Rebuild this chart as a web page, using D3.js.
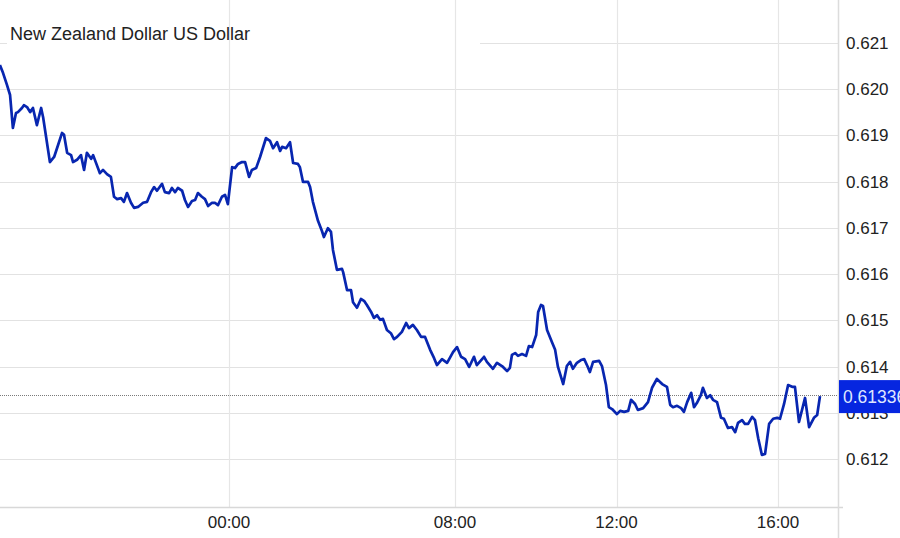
<!doctype html>
<html lang="en">
<head>
    <meta charset="utf-8"/>
    <title>New Zealand Dollar US Dollar</title>
    <script src="https://d3js.org/d3.v7.min.js"></script>
    <style>
        body { margin: 0; background: #fff; }
        svg { display: block; font-family: "Liberation Sans", Arial, sans-serif; }
    </style>
</head>
<body>

<svg id="chart"></svg>

<script>
    const width = 900,
        height = 538;

    // hours relative to 00:00, NZD/USD rate
    const nzdusd = [
        [-8.11, 0.62052], [-8.00, 0.62035], [-7.86, 0.62009], [-7.75, 0.61987], [-7.65, 0.61916], [-7.54, 0.61948],
        [-7.47, 0.61950], [-7.33, 0.61959], [-7.26, 0.61965], [-7.15, 0.61961], [-7.04, 0.61950], [-6.94, 0.61959],
        [-6.80, 0.61922], [-6.65, 0.61959], [-6.58, 0.61939], [-6.34, 0.61842], [-6.19, 0.61853], [-6.05, 0.61879],
        [-5.91, 0.61905], [-5.84, 0.61901], [-5.73, 0.61862], [-5.59, 0.61857], [-5.52, 0.61842], [-5.38, 0.61847],
        [-5.24, 0.61857], [-5.13, 0.61825], [-5.03, 0.61862], [-4.88, 0.61849], [-4.81, 0.61857], [-4.57, 0.61818],
        [-4.46, 0.61825], [-4.32, 0.61816], [-4.18, 0.61810], [-4.07, 0.61767], [-3.96, 0.61762], [-3.82, 0.61764],
        [-3.72, 0.61756], [-3.61, 0.61775], [-3.47, 0.61754], [-3.36, 0.61743], [-3.22, 0.61745], [-3.04, 0.61754],
        [-2.90, 0.61756], [-2.76, 0.61777], [-2.65, 0.61788], [-2.55, 0.61780], [-2.37, 0.61795], [-2.27, 0.61777],
        [-2.12, 0.61775], [-2.02, 0.61786], [-1.91, 0.61777], [-1.81, 0.61786], [-1.66, 0.61780], [-1.56, 0.61760],
        [-1.45, 0.61745], [-1.31, 0.61758], [-1.20, 0.61760], [-1.10, 0.61775], [-0.96, 0.61767], [-0.85, 0.61762],
        [-0.74, 0.61747], [-0.60, 0.61754], [-0.50, 0.61754], [-0.39, 0.61749], [-0.25, 0.61767], [-0.14, 0.61771],
        [-0.04, 0.61751], [0.11, 0.61831], [0.21, 0.61829], [0.32, 0.61838], [0.46, 0.61842], [0.57, 0.61842],
        [0.71, 0.61810], [0.81, 0.61825], [0.96, 0.61829], [1.10, 0.61853], [1.31, 0.61894], [1.45, 0.61888],
        [1.56, 0.61872], [1.70, 0.61885], [1.81, 0.61866], [1.88, 0.61875], [2.02, 0.61872], [2.16, 0.61885],
        [2.27, 0.61840], [2.44, 0.61838], [2.51, 0.61831], [2.62, 0.61799], [2.80, 0.61799], [2.87, 0.61788],
        [2.97, 0.61756], [3.15, 0.61715], [3.29, 0.61693], [3.36, 0.61680], [3.50, 0.61699], [3.61, 0.61691],
        [3.68, 0.61652], [3.82, 0.61609], [4.00, 0.61611], [4.04, 0.61604], [4.18, 0.61565], [4.32, 0.61565],
        [4.39, 0.61539], [4.53, 0.61527], [4.67, 0.61546], [4.78, 0.61542], [4.88, 0.61533], [5.03, 0.61518],
        [5.13, 0.61505], [5.24, 0.61511], [5.35, 0.61501], [5.45, 0.61503], [5.59, 0.61479], [5.73, 0.61472],
        [5.84, 0.61459], [5.95, 0.61464], [6.12, 0.61475], [6.27, 0.61494], [6.37, 0.61483], [6.51, 0.61490],
        [6.65, 0.61479], [6.80, 0.61464], [6.94, 0.61464], [7.12, 0.61436], [7.26, 0.61418], [7.36, 0.61403],
        [7.54, 0.61416], [7.72, 0.61408], [7.93, 0.61431], [8.05, 0.61442], [8.15, 0.61421], [8.25, 0.61416],
        [8.35, 0.61399], [8.47, 0.61421], [8.54, 0.61403], [8.72, 0.61421], [8.79, 0.61410], [8.94, 0.61395],
        [9.04, 0.61408], [9.19, 0.61399], [9.29, 0.61390], [9.36, 0.61397], [9.41, 0.61425], [9.49, 0.61429],
        [9.56, 0.61423], [9.66, 0.61427], [9.76, 0.61423], [9.83, 0.61444], [9.91, 0.61442], [10.01, 0.61468],
        [10.06, 0.61518], [10.13, 0.61533], [10.18, 0.61531], [10.28, 0.61479], [10.40, 0.61453], [10.48, 0.61436],
        [10.55, 0.61399], [10.68, 0.61362], [10.77, 0.61401], [10.85, 0.61410], [10.92, 0.61395], [11.02, 0.61408],
        [11.12, 0.61414], [11.20, 0.61416], [11.29, 0.61399], [11.34, 0.61388], [11.42, 0.61410], [11.57, 0.61412],
        [11.64, 0.61401], [11.74, 0.61360], [11.81, 0.61312], [11.89, 0.61308], [12.01, 0.61297], [12.09, 0.61304],
        [12.19, 0.61302], [12.29, 0.61304], [12.36, 0.61328], [12.46, 0.61319], [12.53, 0.61306], [12.66, 0.61310],
        [12.78, 0.61323], [12.88, 0.61354], [13.00, 0.61373], [13.13, 0.61362], [13.25, 0.61356], [13.33, 0.61317],
        [13.40, 0.61312], [13.50, 0.61315], [13.60, 0.61310], [13.67, 0.61302], [13.75, 0.61323], [13.85, 0.61343],
        [13.92, 0.61312], [13.99, 0.61321], [14.09, 0.61338], [14.14, 0.61354], [14.24, 0.61332], [14.32, 0.61338],
        [14.39, 0.61328], [14.49, 0.61323], [14.59, 0.61289], [14.66, 0.61287], [14.76, 0.61267], [14.86, 0.61269],
        [14.94, 0.61258], [15.01, 0.61278], [15.11, 0.61284], [15.18, 0.61276], [15.26, 0.61276], [15.36, 0.61291],
        [15.43, 0.61284], [15.51, 0.61245], [15.60, 0.61209], [15.68, 0.61211], [15.78, 0.61276], [15.88, 0.61287],
        [15.98, 0.61289], [16.05, 0.61287], [16.15, 0.61319], [16.25, 0.61360], [16.35, 0.61356], [16.42, 0.61356],
        [16.52, 0.61280], [16.67, 0.61332], [16.77, 0.61269], [16.89, 0.61289], [16.97, 0.61295], [17.04, 0.61336]
    ];

    const xTicks = [0, 8, 12, 16];
    const xTickLabels = ["00:00", "08:00", "12:00", "16:00"];
    const yTicks = [0.612, 0.613, 0.614, 0.615, 0.616, 0.617, 0.618, 0.619, 0.620, 0.621];
    const title = "New Zealand Dollar US Dollar";

    const plotRight = 838,
        plotBottom = 507;

    var svg = d3.select("#chart")
        .attr("width", width)
        .attr("height", height);

    // the time axis is not evenly spaced: the night session is squeezed
    let x = d3.scaleLinear()
        .domain([0, 8, 16])
        .range([229, 455, 778]);

    let y = d3.scaleLinear()
        .domain([0.612, 0.620])
        .range([459, 89]);

    // horizontal grid
    svg.append("g")
        .selectAll("line")
        .data(yTicks)
        .enter()
        .append("line")
        .attr("x1", 0)
        .attr("x2", plotRight)
        .attr("y1", d => Math.round(y(d)) + 0.5)
        .attr("y2", d => Math.round(y(d)) + 0.5)
        .attr("stroke", "#e2e2e2")
        .attr("stroke-width", 1.2);

    // white box behind the title
    svg.append("rect")
        .attr("x", 7)
        .attr("y", 12)
        .attr("width", 473)
        .attr("height", 38)
        .attr("fill", "#fff");

    // vertical grid
    svg.append("g")
        .selectAll("line")
        .data(xTicks)
        .enter()
        .append("line")
        .attr("x1", d => Math.round(x(d)) + 0.5)
        .attr("x2", d => Math.round(x(d)) + 0.5)
        .attr("y1", 0)
        .attr("y2", plotBottom)
        .attr("stroke", "#e6e6e6")
        .attr("stroke-width", 1.2);

    // frame: bottom and right
    svg.append("line")
        .attr("x1", 0).attr("x2", plotRight + 5)
        .attr("y1", plotBottom + 0.5).attr("y2", plotBottom + 0.5)
        .attr("stroke", "#d8d8d8")
        .attr("stroke-width", 1.5);
    svg.append("line")
        .attr("x1", plotRight + 0.5).attr("x2", plotRight + 0.5)
        .attr("y1", 0).attr("y2", height)
        .attr("stroke", "#dcdcdc")
        .attr("stroke-width", 1.5);

    // y labels
    svg.append("g")
        .selectAll("text")
        .data(yTicks)
        .enter()
        .append("text")
        .attr("x", 846)
        .attr("y", d => y(d))
        .attr("dy", "0.36em")
        .attr("font-size", 17)
        .attr("fill", "#222")
        .text(d => d3.format(".3f")(d));

    // x labels
    svg.append("g")
        .selectAll("text")
        .data(xTicks)
        .enter()
        .append("text")
        .attr("x", d => x(d))
        .attr("y", 528)
        .attr("text-anchor", "middle")
        .attr("font-size", 17)
        .attr("fill", "#222")
        .text((d, i) => xTickLabels[i]);

    const last = nzdusd[nzdusd.length - 1];

    // dotted last-price line
    svg.append("line")
        .attr("x1", 0)
        .attr("x2", plotRight)
        .attr("y1", Math.round(y(last[1])) - 0.5)
        .attr("y2", Math.round(y(last[1])) - 0.5)
        .attr("stroke", "#7a7a7a")
        .attr("stroke-width", 1)
        .attr("stroke-dasharray", "1,1");

    let line = d3.line()
        .x(d => x(d[0]))
        .y(d => y(d[1]));

    svg.append("path")
        .datum(nzdusd)
        .attr("d", line)
        .attr("fill", "none")
        .attr("stroke", "#0826b0")
        .attr("stroke-width", 2.7)
        .attr("stroke-linejoin", "round");

    // last price tag
    svg.append("rect")
        .attr("x", plotRight + 1)
        .attr("y", y(last[1]) - 16)
        .attr("width", width - plotRight)
        .attr("height", 33)
        .attr("fill", "#0626e0");
    svg.append("text")
        .attr("x", 843)
        .attr("y", y(last[1]) + 1)
        .attr("dy", "0.36em")
        .attr("font-size", 17.5)
        .attr("fill", "#dfe6ff")
        .text(d3.format(".5f")(last[1]));

    svg.append("text")
        .attr("x", 10)
        .attr("y", 40)
        .attr("font-size", 18)
        .attr("fill", "#222")
        .text(title);
</script>

</body>
</html>
